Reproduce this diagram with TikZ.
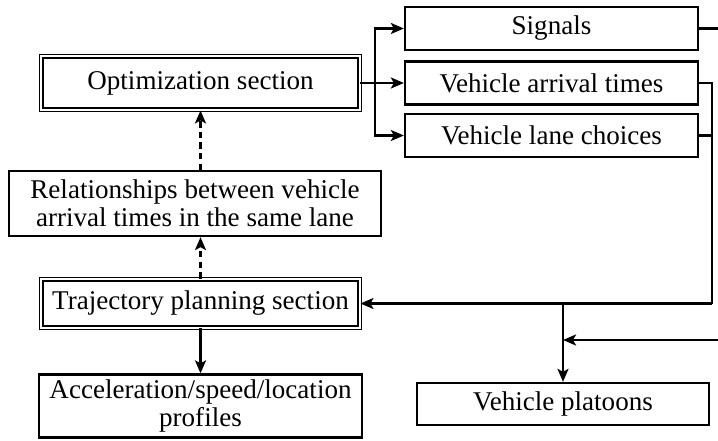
\documentclass[tikz,border=0pt]{standalone}
\usepackage{fontspec}
\setmainfont{Liberation Serif}
\usetikzlibrary{arrows.meta}
\tikzset{
	box/.style={draw, line width=1.3pt, rectangle, inner sep=0pt, align=center},
	dbox/.style={draw, double, double distance=1.4pt, line width=0.8pt, rectangle, inner sep=0pt, align=center},
	link/.style={line width=1.3pt, -{Stealth[length=2.6mm, width=2.2mm, inset=0.6mm]}},
	dlink/.style={link, dash pattern=on 3.6pt off 2.4pt}
	}

\begin{document}
\begin{tikzpicture}[font=\fontsize{15.4}{16}\selectfont]

	\useasboundingbox (0,0) rectangle (14.36,8.8);
	\clip (0,0) rectangle (14.36,8.8);

	% two sections
	\node[dbox, minimum width=6.37cm, minimum height=1.07cm] (opt) at (4.01,7.14) {Optimization section};
	\node[dbox, minimum width=6.37cm, minimum height=0.97cm] (traj) at (4.01,2.73) {Trajectory planning section};

	% outputs of optimization
	\node[box, minimum width=5.86cm, minimum height=0.86cm] (sig) at (11.03,8.23) {Signals};
	\node[box, minimum width=5.86cm, minimum height=0.86cm] (arr) at (11.03,7.14) {Vehicle arrival times};
	\node[box, minimum width=5.86cm, minimum height=0.86cm] (lane) at (11.03,6.09) {Vehicle lane choices};

	% other boxes
	\node[box, minimum width=7.44cm, minimum height=1.30cm] (rel) at (3.9,4.73) {Relationships between vehicle\\arrival times in the same lane};
	\node[box, minimum width=6.46cm, minimum height=1.26cm] (acc) at (4.01,0.68) {Acceleration/speed/location\\profiles};
	\node[box, minimum width=5.84cm, minimum height=0.84cm] (plat) at (11.26,0.72) {Vehicle platoons};

	% fork out of the optimization section
	\coordinate (fork) at (7.5,7.14);
	\draw[link] (opt.east) -- (arr.west);
	\draw[link] (fork) |- (sig.west);
	\draw[link] (fork) |- (lane.west);

	% feedback to trajectory planning
	\coordinate (rtcorner) at (14.24,2.73);
	\coordinate (split) at (11.26,2.73);
	\coordinate (platin) at (11.26,2.0);
	\draw[line width=1.3pt] (arr.east) -| (rtcorner);
	\draw[line width=1.3pt] (lane.east) -- (lane.east -| rtcorner);
	\draw[link] (rtcorner) -- (traj.east);
	\draw[link] (split) -- (plat.north);
	\draw[link] (sig.east) -- ++(0.7,0) |- (platin);

	% left column
	\draw[dlink] (traj.north) -- (traj.north |- rel.south);
	\draw[dlink] (traj.north |- rel.north) -- (opt.south);
	\draw[link] (traj.south) -- (acc.north);

\end{tikzpicture}
\end{document}
